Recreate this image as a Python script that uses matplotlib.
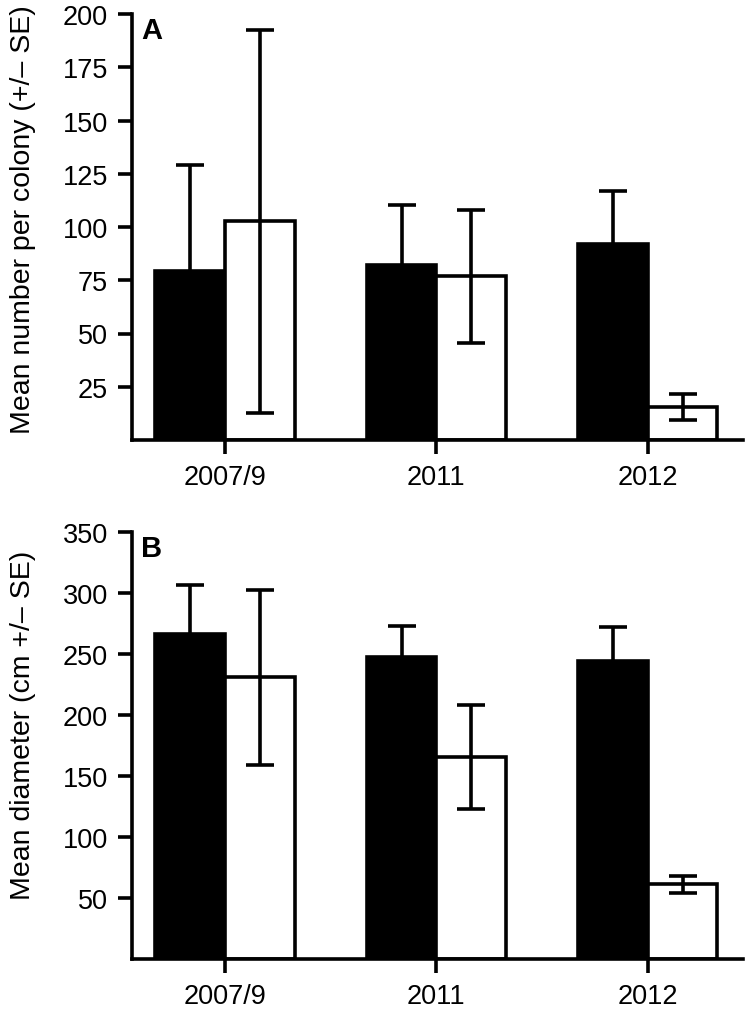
import matplotlib
matplotlib.use("Agg")
import matplotlib.pyplot as plt
import numpy as np

plt.rcParams['font.family'] = ['Liberation Sans', 'DejaVu Sans']

groups = ["2007/9", "2011", "2012"]

# Panel A: mean number per colony
a_black = [79.2, 82.3, 92.0]
a_black_se = [50.0, 27.8, 24.7]
a_white = [102.6, 76.9, 15.7]
a_white_se = [90.0, 31.3, 6.1]

# Panel B: mean diameter
b_black = [266.2, 247.6, 243.8]
b_black_se = [40.6, 25.5, 28.4]
b_white = [230.6, 165.4, 60.8]
b_white_se = [71.9, 42.6, 7.1]

a_ticks = [25, 50, 75, 100, 125, 150, 175, 200]
b_ticks = [50, 100, 150, 200, 250, 300, 350]

W, H = 750, 1012
fig = plt.figure(figsize=(W / 100, H / 100), dpi=100)

LW = 2.6
FS = 19.5
width = 0.33

def panel(rect, black, bse, white, wse, ylim, yticks, ylabel, letter, label_y):
    ax = fig.add_axes(rect)
    x = np.arange(len(groups))
    ax.bar(x, black, width=-width, align='edge', color='black',
           edgecolor='black', linewidth=LW, zorder=2)
    ax.bar(x, white, width=width, align='edge', color='white',
           edgecolor='black', linewidth=LW, zorder=2)
    ax.errorbar(x - width / 2, black, yerr=bse, fmt='none', ecolor='black',
                elinewidth=LW, capsize=10, capthick=LW, zorder=3)
    ax.errorbar(x + width / 2, white, yerr=wse, fmt='none', ecolor='black',
                elinewidth=LW, capsize=10, capthick=LW, zorder=3)
    ax.set_xlim(-0.439, 2.451)
    ax.set_ylim(*ylim)
    ax.set_xticks(x)
    ax.set_xticklabels(groups)
    ax.set_yticks(yticks)
    for s in ['top', 'right']:
        ax.spines[s].set_visible(False)
    for s in ['left', 'bottom']:
        ax.spines[s].set_linewidth(LW)
    ax.tick_params(axis='both', direction='out', length=10, width=LW,
                   labelsize=FS, pad=7.5)
    ax.set_ylabel(ylabel, fontsize=20.5)
    ax.yaxis.set_label_coords(-0.158, label_y)
    ax.text(0.015, 0.995, letter, transform=ax.transAxes, fontsize=21,
            fontweight='bold', va='top', ha='left')
    return ax

panel([132.3 / W, 1 - 441 / H, (743 - 132.3) / W, (441 - 15) / H],
      a_black, a_black_se, a_white, a_white_se, (0, 200), a_ticks,
      "Mean number per colony (+/\u2013 SE)", "A", 0.52)
panel([132.3 / W, 1 - 959.5 / H, (743 - 132.3) / W, (959.5 - 533) / H],
      b_black, b_black_se, b_white, b_white_se, (0, 350), b_ticks,
      "Mean diameter (cm +/\u2013 SE)", "B", 0.55)

fig.savefig("out.png", dpi=100)
